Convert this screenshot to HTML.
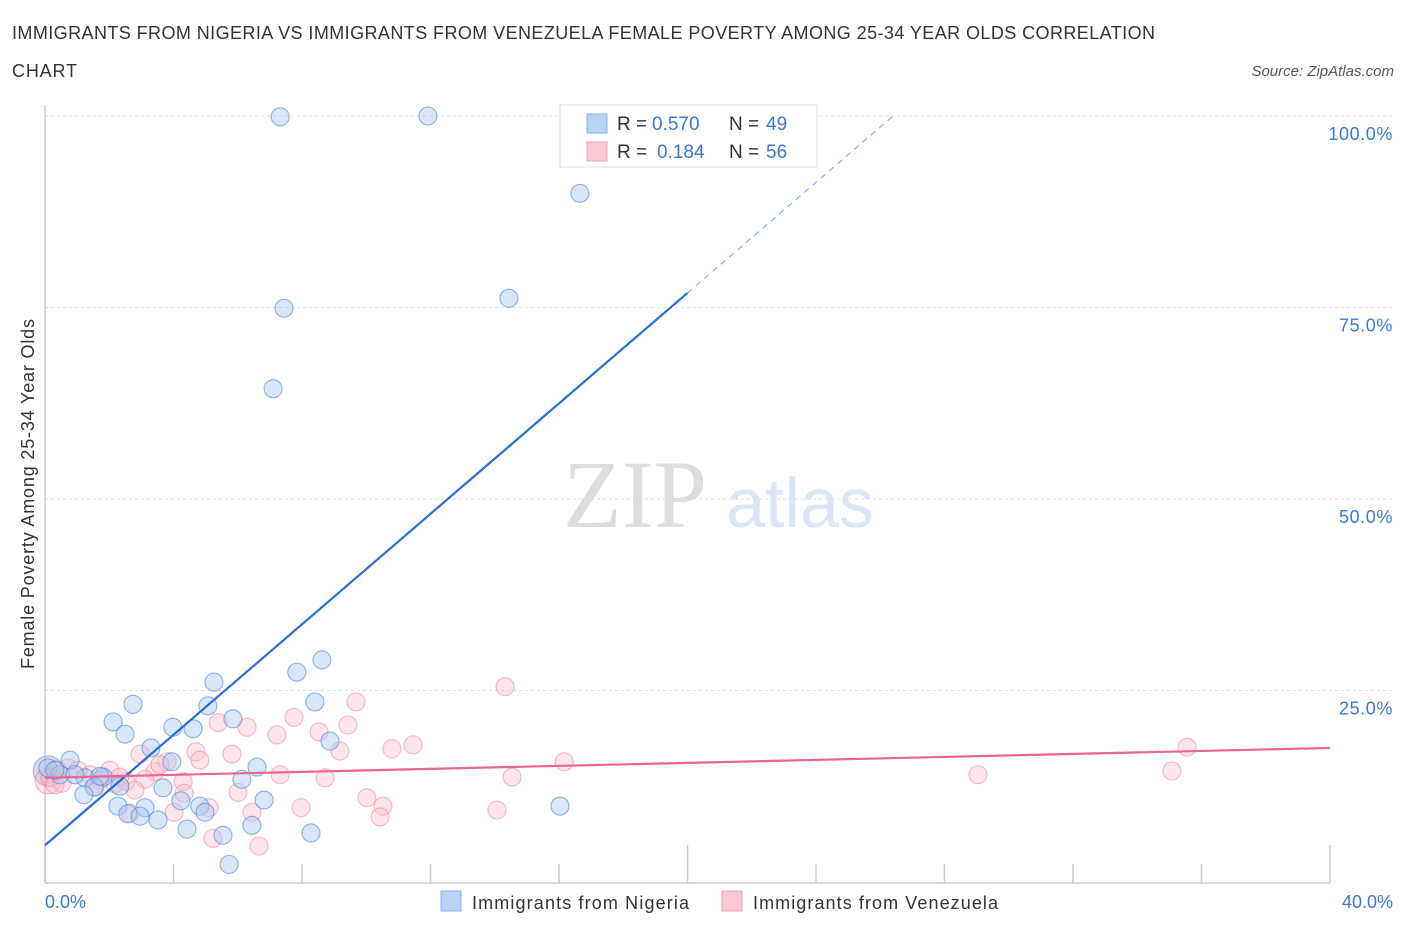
<!DOCTYPE html>
<html><head><meta charset="utf-8"><style>
body{margin:0;background:#fff;font-family:"Liberation Sans",sans-serif}
svg text{font-family:"Liberation Sans",sans-serif}
</style></head><body>
<svg width="1406" height="930" xmlns="http://www.w3.org/2000/svg">
<text x="12" y="39" font-size="18" fill="#333" textLength="1143" lengthAdjust="spacing">IMMIGRANTS FROM NIGERIA VS IMMIGRANTS FROM VENEZUELA FEMALE POVERTY AMONG 25-34 YEAR OLDS CORRELATION</text>
<text x="12" y="77" font-size="18" fill="#333" textLength="65" lengthAdjust="spacing">CHART</text>
<text x="1394" y="76" font-size="15" fill="#555" font-style="italic" text-anchor="end">Source: ZipAtlas.com</text>
<text x="635" y="527" font-size="96" fill="#ddd" text-anchor="middle" font-family="Liberation Serif" style="font-family:'Liberation Serif',serif">ZIP</text>
<text x="800" y="527" font-size="70" fill="#dbe6f5" text-anchor="middle">atlas</text>
<g id="grid"></g>
<g id="axes"></g>
<g id="pts"></g>
<g id="trend"></g>
<text transform="translate(34,494) rotate(-90)" font-size="18" fill="#333" text-anchor="middle" textLength="350" lengthAdjust="spacing">Female Poverty Among 25-34 Year Olds</text>
<text x="45" y="908" font-size="18" fill="#3b78d0">0.0%</text>
<text x="1393" y="908" font-size="18" fill="#3b78d0" text-anchor="end">40.0%</text>
<g>
<rect x="560" y="105" width="257" height="62" fill="#fff" stroke="#ddd"/>
<rect x="587" y="114" width="20" height="19" fill="#b9d3f5" stroke="#8ab2e8"/>
<rect x="587" y="142" width="20" height="19" fill="#fbc8d6" stroke="#f0a0b8"/>
<text x="617" y="130" font-size="19" fill="#333">R = <tspan x="652" fill="#3b78d0">0.570</tspan><tspan x="729">N =</tspan><tspan x="766" fill="#3b78d0">49</tspan></text>
<text x="617" y="158" font-size="19" fill="#333">R = <tspan x="657" fill="#3b78d0">0.184</tspan><tspan x="729">N =</tspan><tspan x="766" fill="#3b78d0">56</tspan></text>
</g>
<g>
<rect x="441" y="891" width="20" height="20" fill="#b9d3f5" stroke="#8ab2e8"/>
<text x="472" y="909" font-size="18" fill="#333" textLength="217" lengthAdjust="spacing">Immigrants from Nigeria</text>
<rect x="722" y="891" width="20" height="20" fill="#fbc8d6" stroke="#f0a0b8"/>
<text x="753" y="909" font-size="18" fill="#333" textLength="245" lengthAdjust="spacing">Immigrants from Venezuela</text>
</g>
</svg>
<script>
const yTicks=[25,50,75,100];
const yTickLabels=["25.0%","50.0%","75.0%","100.0%"];
const xTicks=[0,4,8,12,16,20,24,28,32,36,40];
const nigeriaX=[7.32,11.92,16.65,14.44,7.44,7.10,8.62,7.84,5.26,8.40,2.74,5.07,2.12,5.85,3.98,4.61,2.49,8.87,3.30,3.95,6.60,0.09,0.78,0.47,1.25,1.81,6.13,3.67,1.53,2.33,1.21,4.23,6.82,2.27,3.11,4.82,4.98,16.03,2.58,2.96,3.52,4.42,6.44,5.54,8.28,5.73,1.71,0.31,0.93];
const nigeriaY=[99.9,100,89.9,76.2,74.9,64.4,29.0,27.4,26.1,23.5,23.2,23.0,20.9,21.3,20.2,20.0,19.3,18.4,17.5,15.7,15.0,14.9,15.9,14.0,13.6,13.7,13.4,12.3,12.4,12.5,11.4,10.6,10.7,9.9,9.7,9.9,9.1,9.9,8.9,8.6,8.1,6.9,7.4,6.1,6.4,2.3,13.8,14.6,14.0];
const venezuelaX=[35.55,35.08,29.04,14.32,9.68,7.75,9.43,6.29,5.39,8.53,7.22,9.18,10.80,11.46,4.70,5.82,2.96,3.80,4.82,3.42,4.30,2.52,7.32,8.72,14.54,16.16,2.18,6.01,4.33,5.11,10.02,10.52,10.43,7.97,14.07,6.44,2.65,4.02,5.23,6.66,0.72,1.40,0.16,0.53,1.71,2.02,1.03,3.11,0.40,0.31,1.56,2.33,3.58,2.80];
const venezuelaY=[17.6,14.5,14.0,25.5,23.5,21.5,20.5,20.2,20.8,19.6,19.2,17.1,17.4,17.9,17.0,16.7,16.7,15.7,15.9,14.4,13.1,13.1,14.0,13.6,13.7,15.7,12.8,11.7,11.6,9.7,11.0,9.9,8.5,9.7,9.4,9.1,9.0,9.1,5.7,4.7,14.9,14.0,13.6,12.9,13.3,14.6,14.6,13.4,14.6,12.7,12.4,13.7,15.3,12.0];
const nigeriaTrend=[[0,4.8],[20,76.9]];
const nigeriaTrendExt=[[20,76.9],[26.4,100]];
const venezuelaTrend=[[0,13.6],[40,17.5]];
const NS="http://www.w3.org/2000/svg";
const X=v=>45+v/40*1285, Y=v=>882-v*7.66;
function mk(tag,attrs,parent){const e=document.createElementNS(NS,tag);for(const k in attrs)e.setAttribute(k,attrs[k]);document.getElementById(parent).appendChild(e);return e;}
yTicks.forEach((t,i)=>{
 const l=mk('line',{x1:45,x2:1392,y1:Y(t),y2:Y(t),stroke:'#ddd','stroke-dasharray':'3,3'},'grid');
 
 
 const tx=mk('text',{x:1393,y:Y(t)+24,'font-size':18,fill:'#3b78d0','text-anchor':'end','letter-spacing':'0.6'},'grid');
 tx.textContent=yTickLabels[i];
 
 
});
const ax=mk('line',{x1:45,x2:1330,y1:883,y2:883,stroke:'#ccc','stroke-width':1.5},'axes');


const ay=mk('line',{x1:45,x2:45,y1:105,y2:883,stroke:'#ccc','stroke-width':1.5},'axes');


xTicks.forEach(t=>{
 const major=(t%20===0);
 const l=mk('line',{x1:X(t),x2:X(t),y1:major?845:864,y2:883,stroke:'#ccc','stroke-width':1.5},'axes');
 
 
});
function dot(x,y,r,fill,stroke,name){
 const c=mk('circle',{cx:X(x),cy:Y(y),r:r,fill:fill,stroke:stroke,'stroke-width':1.1},'pts');
 
 
}
dot(0.1,14.5,15,'rgba(160,140,200,0.35)','rgba(130,150,220,0.6)','nigeria-point');
dot(0.1,13.2,13,'rgba(245,170,190,0.35)','rgba(235,120,150,0.5)','venezuela-point');
venezuelaX.forEach((x,i)=>dot(x,venezuelaY[i],9,'rgba(250,190,205,0.4)','rgba(235,120,150,0.5)','venezuela-point'));
nigeriaX.forEach((x,i)=>dot(x,nigeriaY[i],9,'rgba(170,200,240,0.45)','rgba(70,130,220,0.6)','nigeria-point'));
function line(pts,stroke,w,dash,name){
 const l=mk('line',{x1:X(pts[0][0]),y1:Y(pts[0][1]),x2:X(pts[1][0]),y2:Y(pts[1][1]),stroke:stroke,'stroke-width':w},'trend');
 if(dash)l.setAttribute('stroke-dasharray',dash);
 
 
}
line(nigeriaTrend,'#2a6fd6',2.2,null,'nigeria-trend-line');
line(nigeriaTrendExt,'#8ab0e6',1.2,'6,5','nigeria-trend-extension');
line(venezuelaTrend,'#e8668f',2.2,null,'venezuela-trend-line');
</script>
</body></html>
